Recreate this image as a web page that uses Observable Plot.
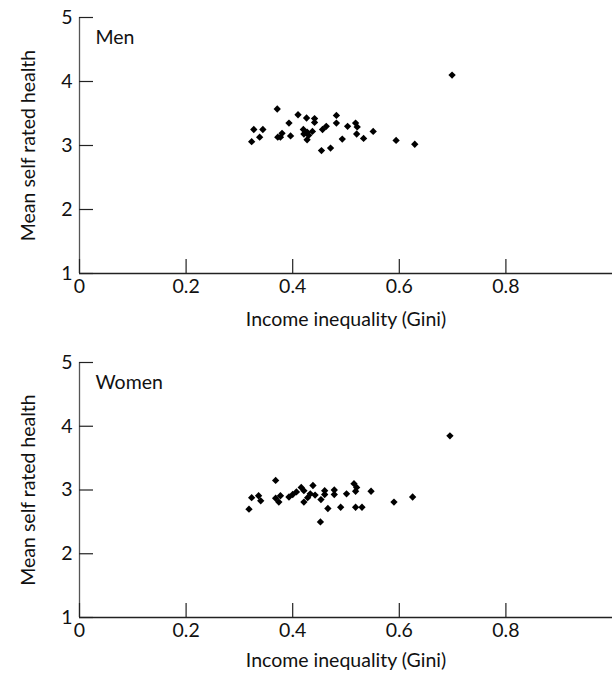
<!DOCTYPE html>
<html><head><meta charset="utf-8">
<script src="https://cdn.jsdelivr.net/npm/d3@7"></script>
<script src="https://cdn.jsdelivr.net/npm/@observablehq/plot@0.6"></script>
<style>body{margin:0;background:#fff} svg{display:block}</style>
</head><body><div id="chart"></div>
<script>
const menGini = [0.371,0.410,0.426,0.441,0.441,0.482,0.482,0.393,0.518,0.503,0.521,0.463,0.456,0.327,0.344,0.420,0.551,0.437,0.427,0.421,0.430,0.427,0.380,0.372,0.377,0.396,0.338,0.323,0.520,0.533,0.493,0.594,0.629,0.454,0.471,0.699];
const menHealth = [3.57,3.48,3.43,3.42,3.36,3.47,3.35,3.35,3.35,3.30,3.29,3.30,3.25,3.25,3.25,3.25,3.22,3.22,3.21,3.18,3.16,3.09,3.19,3.13,3.13,3.15,3.13,3.06,3.18,3.11,3.10,3.08,3.02,2.92,2.96,4.10];
const womenGini = [0.368,0.323,0.336,0.340,0.368,0.377,0.374,0.393,0.407,0.416,0.421,0.433,0.438,0.421,0.453,0.460,0.460,0.478,0.478,0.501,0.515,0.518,0.547,0.590,0.625,0.318,0.466,0.490,0.518,0.530,0.452,0.695,0.520,0.428,0.442,0.400];
const womenHealth = [3.15,2.88,2.91,2.83,2.87,2.91,2.81,2.89,2.97,3.04,2.99,2.94,3.07,2.81,2.85,2.99,2.93,3.00,2.93,2.94,3.10,2.98,2.98,2.81,2.89,2.70,2.71,2.73,2.73,2.73,2.50,3.85,3.04,2.88,2.92,2.93];
const xTicks = [0, 0.2, 0.4, 0.6, 0.8];
const yTicks = [1, 2, 3, 4, 5];
const xLabel = "Income inequality (Gini)";
const yLabel = "Mean self rated health";
const panelNames = ["Men", "Women"];

const W = 615, ML = 79, MR = 3, MT = 17;
const font = "Lato, 'Liberation Sans', sans-serif";
const FS = 19.5;

function panel(name, gini, health, height, marginBottom, titleDy) {
  const plotH = height - MT - marginBottom;
  const plotW = W - ML - MR;
  const data = gini.map((g, i) => ({g, h: health[i]}));
  return Plot.plot({
    width: W, height,
    marginLeft: ML, marginRight: MR, marginTop: MT, marginBottom,
    style: {fontFamily: font, fontSize: FS + "px", color: "#111", background: "#fff", overflow: "visible"},
    x: {domain: [0, 1], axis: null},
    y: {domain: [1, 5], axis: null},
    marks: [
      Plot.ruleY([1], {stroke: "#222", strokeWidth: 1.3}),
      Plot.ruleX([0], {stroke: "#555", strokeWidth: 1.3}),
      Plot.tickX(xTicks, {x: d => d, insetTop: plotH - 14, stroke: "#222", strokeWidth: 1.2}),
      Plot.tickY(yTicks, {y: d => d, insetRight: plotW - 14, stroke: "#222", strokeWidth: 1.2}),
      Plot.axisX(xTicks, {tickSize: 0, tickPadding: 6, label: null, tickFormat: d => String(d), fontSize: FS}),
      Plot.axisY(yTicks, {tickSize: 0, tickPadding: 7, label: null, tickFormat: d => String(d), fontSize: FS}),
      Plot.dot(data, {x: "g", y: "h", symbol: "diamond2", r: 3.3, fill: "black", stroke: "none"}),
      Plot.text([name], {frameAnchor: "top-left", dx: 16, dy: 20, textAnchor: "start", lineAnchor: "middle", fontSize: FS}),
      Plot.text([xLabel], {frameAnchor: "bottom", dy: titleDy, textAnchor: "middle", lineAnchor: "middle", fontSize: FS}),
      Plot.text([yLabel], {frameAnchor: "left", dx: -51, rotate: -90, textAnchor: "middle", lineAnchor: "middle", fontSize: FS})
    ]
  });
}

const root = document.getElementById("chart");
root.appendChild(panel(panelNames[0], menGini, menHealth, 345, 72, 46));
root.appendChild(panel(panelNames[1], womenGini, womenHealth, 328, 56, 43));
</script>
</body></html>
